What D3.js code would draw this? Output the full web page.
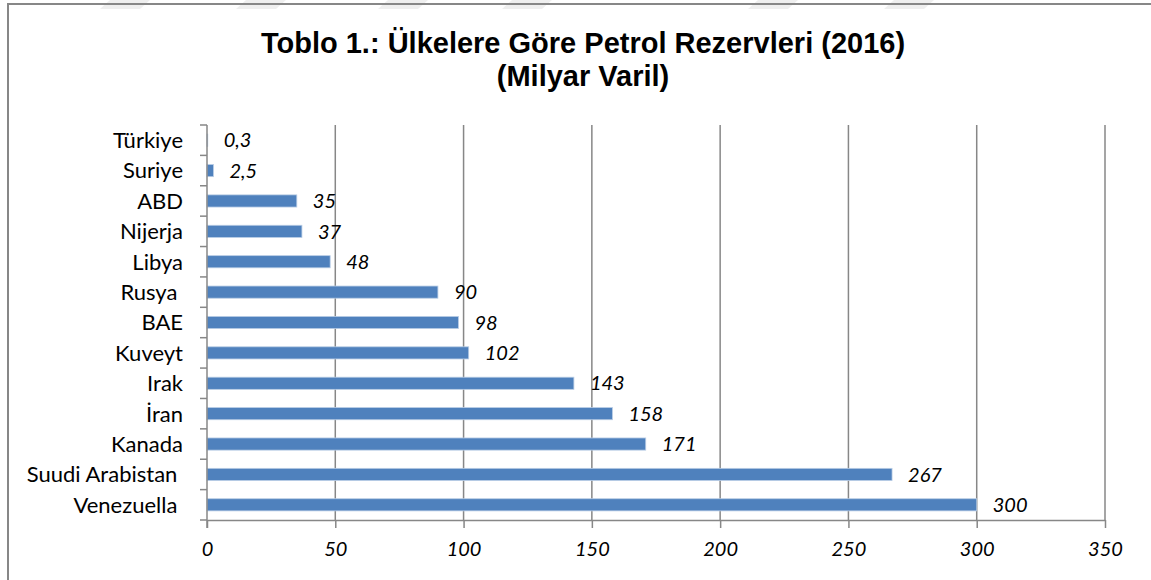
<!DOCTYPE html>
<html>
<head>
<meta charset="utf-8">
<script src="https://cdn.jsdelivr.net/npm/d3@7"></script>
<style>
  body { margin: 0; background: #fff; }
  svg { display: block; }
  .cat text { white-space: pre; }
</style>
</head>
<body>
<svg id="chart" width="1151" height="580"></svg>
<script>
// Ülkelere göre petrol rezervleri, milyar varil (yukarıdan aşağıya)
var countries = ['Türkiye', 'Suriye', 'ABD', 'Nijerja', 'Libya', 'Rusya ', 'BAE', 'Kuveyt', 'Irak', 'İran', 'Kanada', 'Suudi Arabistan ', 'Venezuella '];
var reserves = [0.3, 2.5, 35, 37, 48, 90, 98, 102, 143, 158, 171, 267, 300];
var xTicks = [0, 50, 100, 150, 200, 250, 300, 350];
var titleLines = ['Toblo 1.: Ülkelere Göre Petrol Rezervleri (2016)', '(Milyar Varil)'];

var data = countries.map(function(c, i) { return { name: c, value: reserves[i] }; });

var svg = d3.select('#chart');
var labelFont = 'Lato, "Open Sans", sans-serif';
var gray = '#878787';

// tr number format (ondalık virgül)
var tr = d3.formatLocale({ decimal: ',', thousands: '.', grouping: [3], currency: ['', ' TL'] });
var fmt = tr.format('~g');

// faint watermark strips at the very top
var strips = [100, 236, 378, 502, 748, 884];
svg.selectAll('.strip')
	.data(strips)
	.enter()
	.append('path')
	.attr('d', function(d) { return 'M' + (d + 10) + ',0 L' + (d + 50) + ',0 L' + (d + 40) + ',9 L' + d + ',9 Z'; })
	.style('fill', '#efefef');

// chart frame (only top and left edges are visible)
svg.append('path')
	.attr('d', 'M8,580 L8,4 L1151,4')
	.style('fill', 'none')
	.style('stroke', gray)
	.style('stroke-width', 2);

// title
svg.selectAll('.title')
	.data(titleLines)
	.enter()
	.append('text')
	.attr('class', 'title')
	.attr('x', 583)
	.attr('y', function(d, i) { return 53 + i * 33; })
	.attr('text-anchor', 'middle')
	.style('font-family', '"Liberation Sans", Arial, sans-serif')
	.style('font-weight', 'bold')
	.style('font-size', '29px')
	.style('fill', '#000')
	.text(function(d) { return d; });

var margin = { left: 207, right: 1105, top: 125, bottom: 520 };

var x = d3.scaleLinear()
	.domain([0, 350])
	.range([margin.left, margin.right]);

var y = d3.scaleBand()
	.domain(countries)
	.range([margin.top, margin.bottom])
	.paddingInner(0.6)
	.paddingOuter(0.3);

// vertical gridlines
svg.append('g')
	.selectAll('line')
	.data(xTicks.slice(1))
	.enter()
	.append('line')
	.attr('x1', function(d) { return x(d); })
	.attr('x2', function(d) { return x(d); })
	.attr('y1', margin.top)
	.attr('y2', margin.bottom)
	.style('stroke', gray)
	.style('stroke-width', 1.5);

// bars
svg.append('g')
	.selectAll('rect')
	.data(data)
	.enter()
	.append('rect')
	.attr('x', x(0))
	.attr('y', function(d) { return y(d.name); })
	.attr('width', function(d) { return x(d.value) - x(0); })
	.attr('height', y.bandwidth())
	.style('fill', '#4f81bd')
	.style('stroke', '#b9cde5')
	.style('stroke-width', 0.8);

// value labels
svg.append('g')
	.selectAll('text')
	.data(data)
	.enter()
	.append('text')
	.attr('x', function(d) { return x(d.value) + 16; })
	.attr('y', function(d) { return y(d.name) + y.bandwidth() / 2; })
	.attr('dy', '0.36em')
	.style('font-family', labelFont)
	.style('font-style', 'italic')
	.style('font-size', '20px')
	.style('fill', '#000')
	.text(function(d) { return fmt(d.value); });

// x axis
var xAxis = svg.append('g')
	.attr('transform', 'translate(0,' + margin.bottom + ')')
	.call(d3.axisBottom(x).tickValues(xTicks).tickSize(8).tickPadding(14).tickSizeOuter(0));

xAxis.select('.domain').style('stroke', gray).style('stroke-width', 1.5);
xAxis.selectAll('.tick line').style('stroke', gray).style('stroke-width', 1.5);
xAxis.selectAll('.tick text')
	.style('font-family', labelFont)
	.style('font-style', 'italic')
	.style('font-size', '20px')
	.style('fill', '#000');

// y axis with ticks between categories
var bounds = d3.range(countries.length + 1).map(function(i) { return margin.top + i * y.step(); });

svg.append('line')
	.attr('x1', margin.left)
	.attr('x2', margin.left)
	.attr('y1', margin.top)
	.attr('y2', margin.bottom + 8)
	.style('stroke', gray)
	.style('stroke-width', 1.5);

svg.append('g')
	.selectAll('line')
	.data(bounds)
	.enter()
	.append('line')
	.attr('x1', margin.left - 7)
	.attr('x2', margin.left)
	.attr('y1', function(d) { return d; })
	.attr('y2', function(d) { return d; })
	.style('stroke', gray)
	.style('stroke-width', 1.5);

svg.append('g')
	.attr('class', 'cat')
	.selectAll('text')
	.data(countries)
	.enter()
	.append('text')
	.attr('x', margin.left - 24)
	.attr('y', function(d) { return y(d) + y.bandwidth() / 2; })
	.attr('dy', '0.36em')
	.attr('text-anchor', 'end')
	.style('font-family', labelFont)
	.style('font-size', '22px')
	.style('fill', '#000')
	.text(function(d) { return d; });
</script>
</body>
</html>
